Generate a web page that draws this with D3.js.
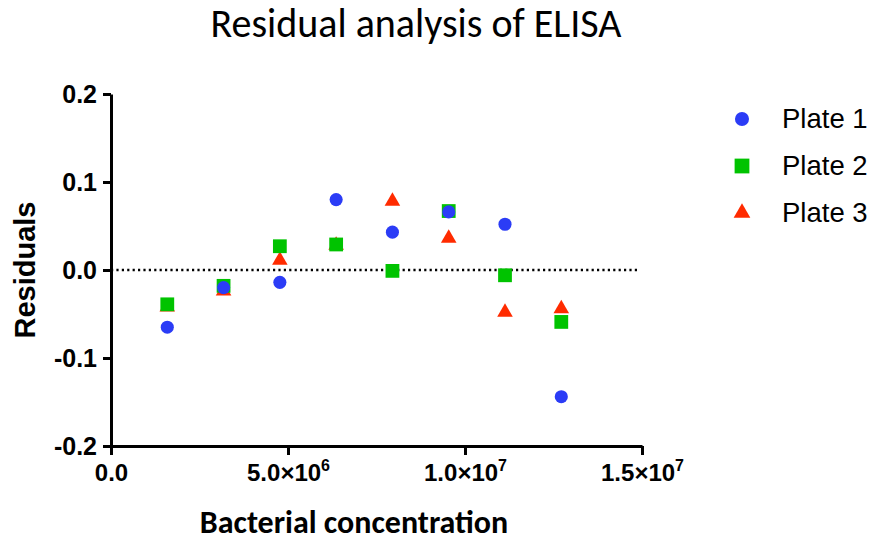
<!DOCTYPE html>
<html>
<head>
<meta charset="utf-8">
<script src="https://cdn.jsdelivr.net/npm/d3@7"></script>
<style>
  body { margin: 0; background: #fff; }
  svg { display: block; }
</style>
</head>
<body>
<div id="chart"></div>
<script>
// concentrations (cells/ml)
var concentrations = [1.59e6, 3.18e6, 4.77e6, 6.36e6, 7.95e6, 9.54e6, 11.13e6, 12.72e6];
var plate1 = [-0.065, -0.020, -0.014, 0.080, 0.043, 0.066, 0.052, -0.144];
var plate2 = [-0.039, -0.018, 0.027, 0.029, -0.001, 0.067, -0.006, -0.059];
var plate3 = [-0.042, -0.024, 0.011, 0.028, 0.078, 0.036, -0.048, -0.044];
var seriesNames = ['Plate 1', 'Plate 2', 'Plate 3'];
var yTicks = [-0.2, -0.1, 0.0, 0.1, 0.2];
var xTicks = [0, 5e6, 1e7, 1.5e7];
var xTickLabels = [['0.0', ''], ['5.0\u00d710', '6'], ['1.0\u00d710', '7'], ['1.5\u00d710', '7']];

var W = 872, H = 541;
var svg = d3.select('#chart').append('svg').attr('width', W).attr('height', H);

var x = d3.scaleLinear().domain([0, 1.5e7]).range([111, 642]);
var y = d3.scaleLinear().domain([-0.2, 0.2]).range([446, 94]);

var colors = { 'Plate 1': '#2b3cf6', 'Plate 2': '#00c300', 'Plate 3': '#ff2b00' };
var symbols = { 'Plate 1': d3.symbolCircle, 'Plate 2': d3.symbolSquare, 'Plate 3': d3.symbolTriangle };
var sizes = { 'Plate 1': 135, 'Plate 2': 190, 'Plate 3': 105 };
var values = { 'Plate 1': plate1, 'Plate 2': plate2, 'Plate 3': plate3 };

var arial = '"Liberation Sans", Arial, Helvetica, sans-serif';
var calibri = 'Carlito, Calibri, "Open Sans", sans-serif';

// title
svg.append('text')
  .attr('x', 416).attr('y', 37)
  .attr('text-anchor', 'middle')
  .style('font-family', calibri)
  .style('font-size', '40px')
  .text('Residual analysis of ELISA');

// zero line
svg.append('line')
  .attr('x1', x(0)).attr('x2', x(1.5e7) - 2)
  .attr('y1', y(0)).attr('y2', y(0))
  .attr('stroke', '#000').attr('stroke-width', 2.4)
  .attr('stroke-dasharray', '2.2,3.2');

// y axis
var yAxis = svg.append('g')
  .attr('transform', 'translate(' + x(0) + ',0)')
  .call(d3.axisLeft(y).tickValues(yTicks).tickSize(8).tickSizeOuter(0).tickPadding(6)
    .tickFormat(function(d) { return d.toFixed(1); }));
yAxis.select('.domain').attr('stroke-width', 3);
yAxis.selectAll('.tick line').attr('stroke-width', 3);
yAxis.selectAll('.tick text')
  .style('font-family', arial)
  .style('font-weight', 'bold').style('font-size', '25px').attr('fill', '#000');

// x axis
var xAxis = svg.append('g')
  .attr('transform', 'translate(0,' + y(-0.2) + ')')
  .call(d3.axisBottom(x).tickValues(xTicks).tickSize(9).tickSizeOuter(0).tickFormat(''));
xAxis.select('.domain').attr('stroke-width', 3);
xAxis.selectAll('.tick line').attr('stroke-width', 3);
xAxis.selectAll('.tick').each(function(d, i) {
  var t = d3.select(this).append('text')
    .attr('y', 35)
    .attr('text-anchor', 'middle')
    .attr('fill', '#000')
    .style('font-family', arial)
    .style('font-weight', 'bold').style('font-size', '24px');
  t.append('tspan').text(xTickLabels[i][0]);
  if (xTickLabels[i][1]) {
    t.append('tspan').attr('dy', -10).style('font-size', '16px').text(xTickLabels[i][1]);
  }
});

// axis titles
svg.append('text')
  .attr('transform', 'translate(35,270) rotate(-90)')
  .attr('text-anchor', 'middle')
  .style('font-family', arial)
  .style('font-weight', 'bold').style('font-size', '29px')
  .text('Residuals');

svg.append('text')
  .attr('x', 354).attr('y', 533)
  .attr('text-anchor', 'middle')
  .style('font-family', calibri)
  .style('font-weight', 'bold').style('font-size', '32px')
  .text('Bacterial concentration');

// points, plate 3 underneath, plate 1 on top
seriesNames.slice().reverse().forEach(function(name) {
  svg.append('g').selectAll('path')
    .data(values[name])
    .join('path')
    .attr('transform', function(d, i) { return 'translate(' + x(concentrations[i]) + ',' + y(d) + ')'; })
    .attr('d', d3.symbol().type(symbols[name]).size(sizes[name]))
    .attr('fill', colors[name]);
});

// legend
var legend = svg.append('g').selectAll('g')
  .data(seriesNames)
  .join('g')
  .attr('transform', function(d, i) { return 'translate(742,' + (119 + i * 47) + ')'; });
legend.append('path')
  .attr('d', function(d) { return d3.symbol().type(symbols[d]).size(sizes[d] * 1.15)(); })
  .attr('fill', function(d) { return colors[d]; });
legend.append('text')
  .attr('x', 40).attr('y', 9)
  .style('font-family', arial)
  .style('font-size', '27.5px')
  .text(function(d) { return d; });
</script>
</body>
</html>
